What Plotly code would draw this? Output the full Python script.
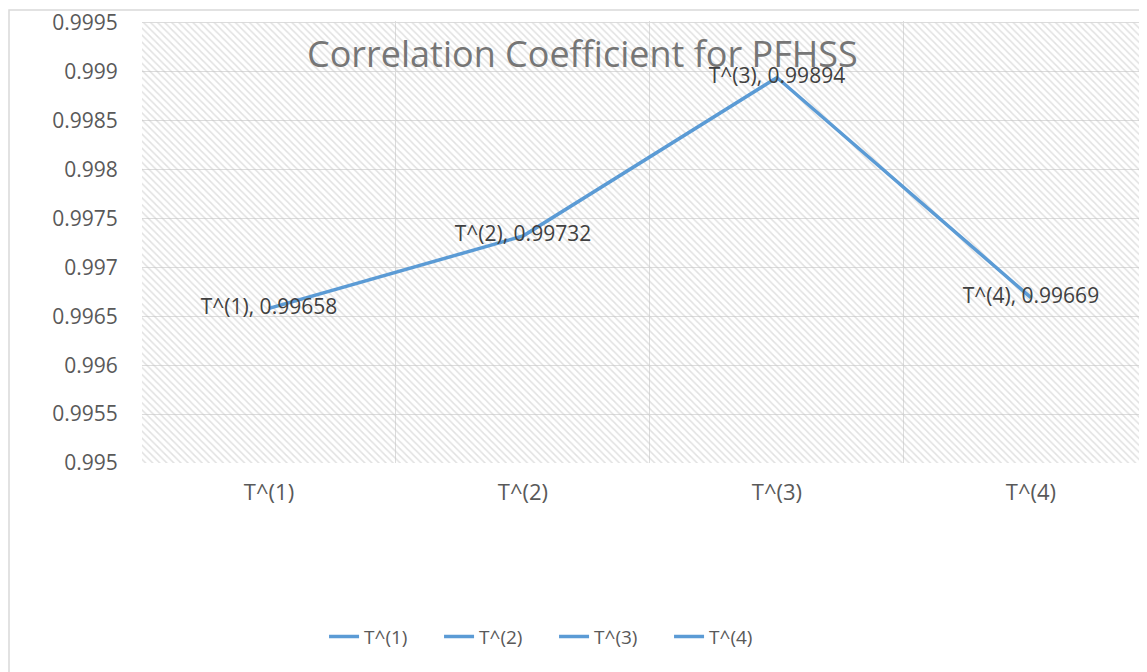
import plotly.graph_objects as go

categories = ["T^(1)", "T^(2)", "T^(3)", "T^(4)"]
values = [0.99658, 0.99732, 0.99894, 0.99669]
y_ticks = [0.995, 0.9955, 0.996, 0.9965, 0.997, 0.9975, 0.998, 0.9985, 0.999, 0.9995]
y_tick_text = ["0.995", "0.9955", "0.996", "0.9965", "0.997", "0.9975", "0.998", "0.9985", "0.999", "0.9995"]

LINE = "#5b9bd5"
TXT = "#404040"
TICK = "#595959"
FONT = "Open Sans"

xpos = list(range(len(categories)))
labels = [f"{c}, {v}" for c, v in zip(categories, values)]

Y_MIN, Y_MAX = 0.995, 0.9995
Y_PAD = (Y_MAX - Y_MIN) * 0.004  # tiny headroom so the top gridline/tick are kept

fig = go.Figure()

# hatched plot-area background on a hidden 0..1 subplot
fig.add_trace(go.Scatter(
    x=[0, 1, 1, 0, 0], y=[0, 0, 1, 1, 0], mode="lines", fill="toself",
    line=dict(width=0, color="rgba(0,0,0,0)"),
    fillcolor="rgba(0,0,0,0)",
    fillpattern=dict(shape="\\", fgcolor="#c4c4c4", bgcolor="rgba(0,0,0,0)", size=5, solidity=0.3),
    hoverinfo="skip", showlegend=False, xaxis="x", yaxis="y"))

fig.add_trace(go.Scatter(
    x=xpos, y=values, mode="lines+text", text=labels, textposition="middle center",
    textfont=dict(family=FONT, size=21, color=TXT),
    line=dict(color=LINE, width=3.5), showlegend=False, xaxis="x2", yaxis="y2"))

for c in categories:
    fig.add_trace(go.Scatter(x=[None], y=[None], mode="lines", name=c,
                             line=dict(color=LINE, width=3.5), xaxis="x2", yaxis="y2"))

fig.update_layout(
    width=1139, height=664,
    margin=dict(l=134, r=0, t=10, b=209, pad=0),
    paper_bgcolor="white", plot_bgcolor="white",
    font=dict(family=FONT, size=19, color=TICK),
    xaxis=dict(range=[0, 1], visible=False, fixedrange=True),
    yaxis=dict(range=[0, 1 + 0.004], visible=False, fixedrange=True),
    xaxis2=dict(overlaying="x", range=[-0.5, 3.457], tickvals=xpos, ticktext=categories,
                showgrid=False, zeroline=False, showline=False,
                ticks="outside", ticklen=10, tickcolor="rgba(0,0,0,0)",
                tickfont=dict(family=FONT, size=22, color=TICK),
                minor=dict(tickvals=[-0.5, 0.5, 1.5, 2.5], showgrid=True, gridcolor="#dcdcdc",
                           gridwidth=1.3, ticks="")),
    yaxis2=dict(overlaying="y", range=[Y_MIN, Y_MAX + Y_PAD], tickvals=y_ticks,
                ticktext=y_tick_text, ticklabeloverflow="allow",
                showgrid=True, gridcolor="#dcdcdc", gridwidth=1.3, zeroline=False,
                showline=False, ticks="outside", ticklen=19, tickcolor="rgba(0,0,0,0)",
                tickfont=dict(family=FONT, size=21, color=TICK)),
    legend=dict(orientation="h", x=0.41, xanchor="center", y=-0.393, yanchor="middle",
                entrywidth=70, entrywidthmode="pixels",
                font=dict(family=FONT, size=19, color=TICK), bgcolor="rgba(0,0,0,0)"),
    annotations=[dict(text="Correlation Coefficient for PFHSS", xref="paper", yref="paper",
                      x=0.438, y=0.927, xanchor="center", yanchor="middle", showarrow=False,
                      font=dict(family=FONT, size=36, color="#767676"))],
    shapes=[dict(type="rect", xref="paper", yref="paper",
                 x0=-133 / 1005, x1=1.05, y0=-0.6, y1=1 + 11 / 443,
                 line=dict(color="#d9d9d9", width=1.5), layer="below")],
)

fig.write_html("out.html")
